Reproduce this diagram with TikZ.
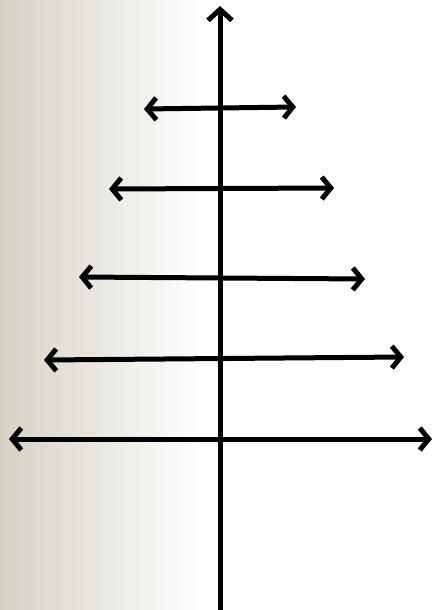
\documentclass[tikz,border=0pt]{standalone}
\usetikzlibrary{arrows.meta}
\definecolor{bgleft}{RGB}{214,209,197}
\tikzset{
  axis/.style={line width=5pt, draw=black},
  tipb/.tip={Straight Barb[length=9pt,width=22pt,line width=5pt]},
  tipt/.tip={Straight Barb[length=11pt,width=24pt,line width=5pt]},
  barb/.style={line width=5pt, draw=black, tipb-tipb},
}
\begin{document}
\begin{tikzpicture}[x=1pt,y=-1pt]
\useasboundingbox (0,0) rectangle (435,610);
\fill[white] (0,0) rectangle (435,610);
\shade[left color=bgleft, right color=white] (0,0) rectangle (205,610);
\coordinate (top) at (220,6);
\coordinate (bot) at (220,612);
\draw[axis, -tipt] (bot) -- (top);
\coordinate (l1) at (144,109); \coordinate (r1) at (296,107);
\coordinate (l2) at (109,189); \coordinate (r2) at (334,188);
\coordinate (l3) at (79,277);  \coordinate (r3) at (365,279);
\coordinate (l4) at (44,360);  \coordinate (r4) at (404,357);
\coordinate (l5) at (9,439);   \coordinate (r5) at (432,439);
\foreach \i in {1,...,5} { \draw[barb] (l\i) -- (r\i); }
\end{tikzpicture}
\end{document}
